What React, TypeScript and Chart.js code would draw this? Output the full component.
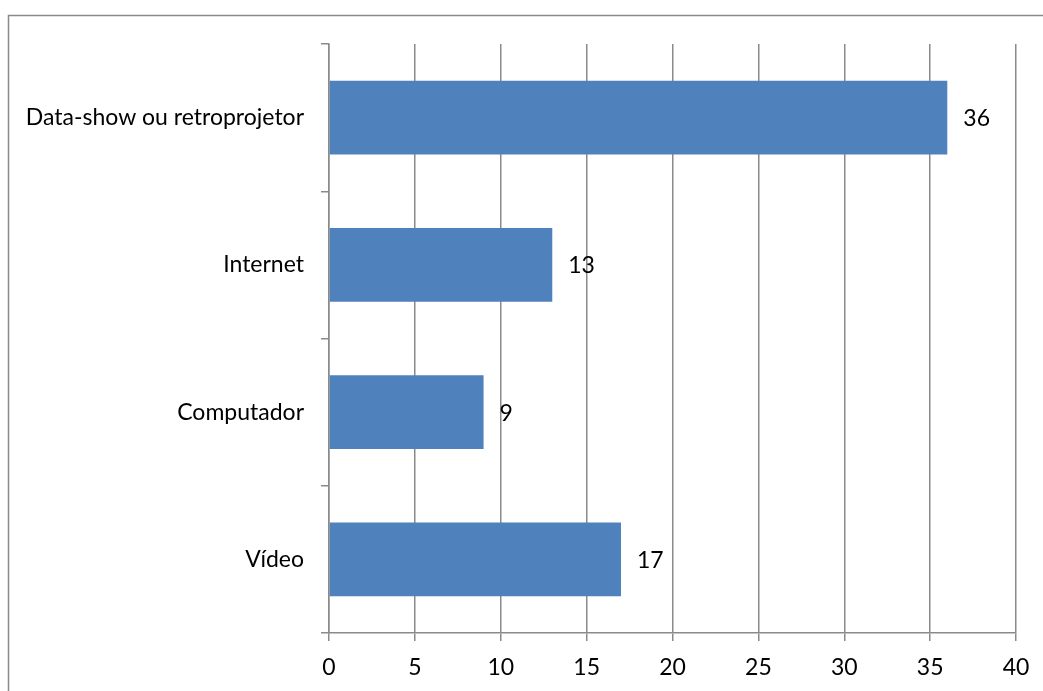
import React, { useEffect, useRef } from "react";
import { Chart, registerables } from "chart.js";

Chart.register(...registerables);

const categories = ["Data-show ou retroprojetor", "Internet", "Computador", "Vídeo"];
const values = [36, 13, 9, 17];
const xMin = 0;
const xMax = 40;
const xStep = 5;

const FONT = "Lato";
const FONT_SIZE = 23;
const GRID = "#8a8a8a";
const BAR = "#4F81BD";

const framePlugin = {
  id: "frame",
  beforeDraw(chart: any) {
    const ctx = chart.ctx;
    ctx.save();
    ctx.fillStyle = "#ffffff";
    ctx.fillRect(0, 0, chart.width, chart.height);
    ctx.strokeStyle = "#8a8a8a";
    ctx.lineWidth = 1.5;
    ctx.strokeRect(8.5, 15.5, 1200, 900);
    ctx.restore();
  },
};

const valueLabelPlugin = {
  id: "valueLabels",
  afterDatasetsDraw(chart: any) {
    const ctx = chart.ctx;
    const meta = chart.getDatasetMeta(0);
    ctx.save();
    ctx.fillStyle = "#000000";
    ctx.font = `${FONT_SIZE}px ${FONT}`;
    ctx.textAlign = "left";
    ctx.textBaseline = "middle";
    meta.data.forEach((bar: any, i: number) => {
      ctx.fillText(String(values[i]), bar.x + 16, bar.y + 1);
    });
    ctx.restore();
  },
};

export default function App() {
  const ref = useRef<HTMLCanvasElement>(null);
  useEffect(() => {
    if (!ref.current) return;
    const chart = new Chart(ref.current, {
      type: "bar",
      data: {
        labels: categories,
        datasets: [
          {
            data: values,
            backgroundColor: BAR,
            borderWidth: 0,
            categoryPercentage: 1,
            barPercentage: 0.5,
          },
        ],
      },
      options: {
        indexAxis: "y",
        animation: false,
        responsive: false,
        maintainAspectRatio: false,
        layout: { padding: { left: 0, top: 44, right: 27, bottom: 0 } },
        plugins: {
          legend: { display: false },
          tooltip: { enabled: false },
          title: { display: false },
        },
        scales: {
          x: {
            min: xMin,
            max: xMax,
            ticks: {
              stepSize: xStep,
              color: "#000",
              font: { family: FONT, size: FONT_SIZE },
              padding: 13,
            },
            grid: {
              color: GRID,
              lineWidth: 1.5,
              tickLength: 8,
              drawTicks: true,
            },
            border: { color: GRID, width: 1.5 },
            afterFit(scale: any) {
              scale.height = 58;
            },
          },
          y: {
            ticks: {
              color: "#000",
              font: { family: FONT, size: FONT_SIZE },
              padding: 17,
            },
            grid: {
              offset: true,
              drawOnChartArea: false,
              drawTicks: true,
              tickLength: 8,
              color: GRID,
              lineWidth: 1.5,
            },
            border: { color: GRID, width: 1.5 },
            afterFit(scale: any) {
              scale.width = 329;
            },
          },
        },
      },
      plugins: [framePlugin, valueLabelPlugin],
    });
    return () => chart.destroy();
  }, []);
  return (
    <div style={{ position: "absolute", left: 0, top: 0, width: 1043, height: 691 }}>
      <canvas ref={ref} width={1043} height={691} style={{ display: "block" }} />
    </div>
  );
}
